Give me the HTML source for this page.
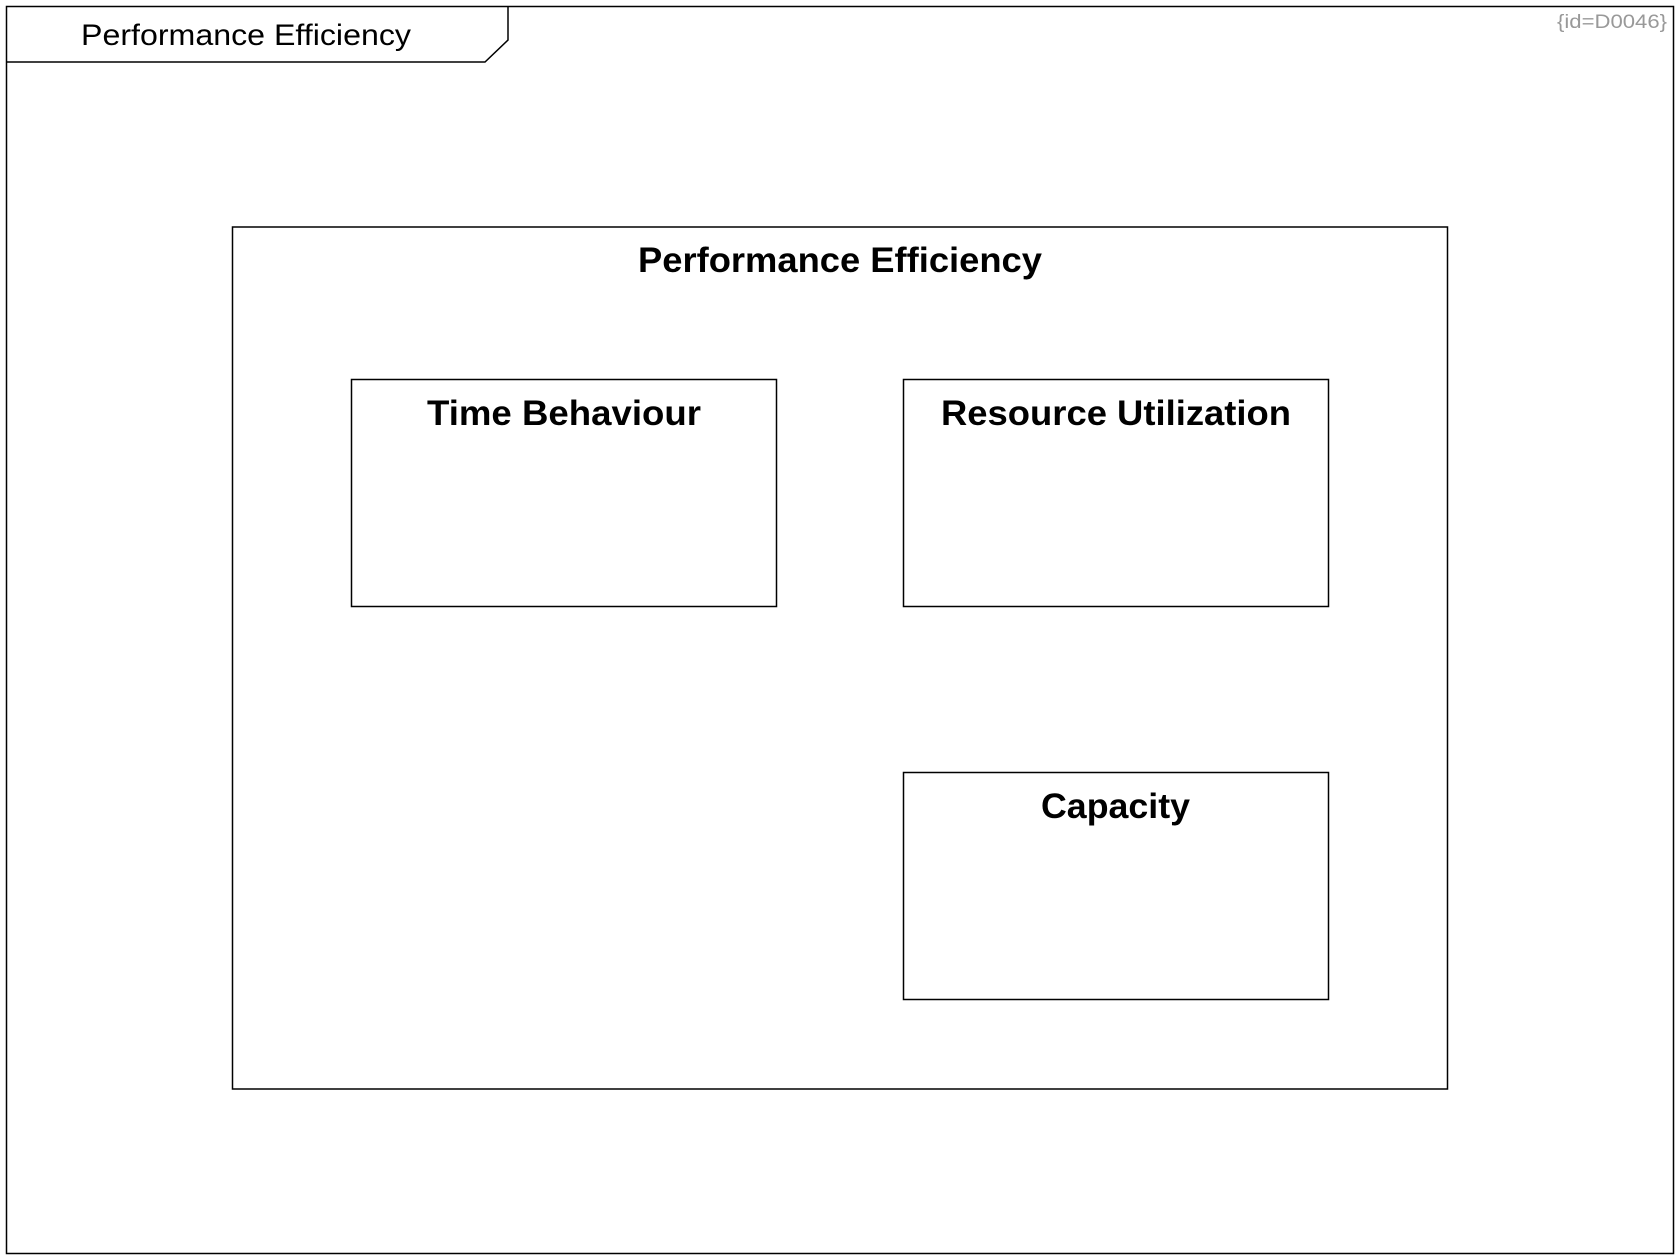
<!DOCTYPE html>
<html><head><meta charset="utf-8"><style>html,body{margin:0;padding:0;background:#fff;}svg{display:block}</style></head>
<body>
<svg width="1680" height="1260" viewBox="0 0 1680 1260" xmlns="http://www.w3.org/2000/svg" font-family="'Liberation Sans', sans-serif">
<rect x="6.5" y="6.5" width="1667" height="1247" fill="#fff" stroke="#000" stroke-width="1.5"/>
<path d="M6.5 62 L485 62 L508 40 L508 6.5" fill="none" stroke="#000" stroke-width="1.5"/>
<text x="81" y="45" font-size="30" textLength="330" lengthAdjust="spacingAndGlyphs">Performance Efficiency</text>
<text x="1557" y="28" font-size="19" fill="#999" textLength="110" lengthAdjust="spacingAndGlyphs">{id=D0046}</text>
<rect x="232.5" y="227" width="1215" height="862" fill="#fff" stroke="#000" stroke-width="1.5"/>
<text x="638" y="272" font-size="35" font-weight="bold" textLength="404" lengthAdjust="spacingAndGlyphs">Performance Efficiency</text>
<rect x="351.5" y="379.5" width="425" height="227" fill="#fff" stroke="#000" stroke-width="1.5"/>
<text x="427" y="425" font-size="35" font-weight="bold" textLength="274" lengthAdjust="spacingAndGlyphs">Time Behaviour</text>
<rect x="903.5" y="379.5" width="425" height="227" fill="#fff" stroke="#000" stroke-width="1.5"/>
<text x="941" y="425" font-size="35" font-weight="bold" textLength="350" lengthAdjust="spacingAndGlyphs">Resource Utilization</text>
<rect x="903.5" y="772.5" width="425" height="227" fill="#fff" stroke="#000" stroke-width="1.5"/>
<text x="1041" y="818" font-size="35" font-weight="bold" textLength="149" lengthAdjust="spacingAndGlyphs">Capacity</text>
</svg>
</body></html>
